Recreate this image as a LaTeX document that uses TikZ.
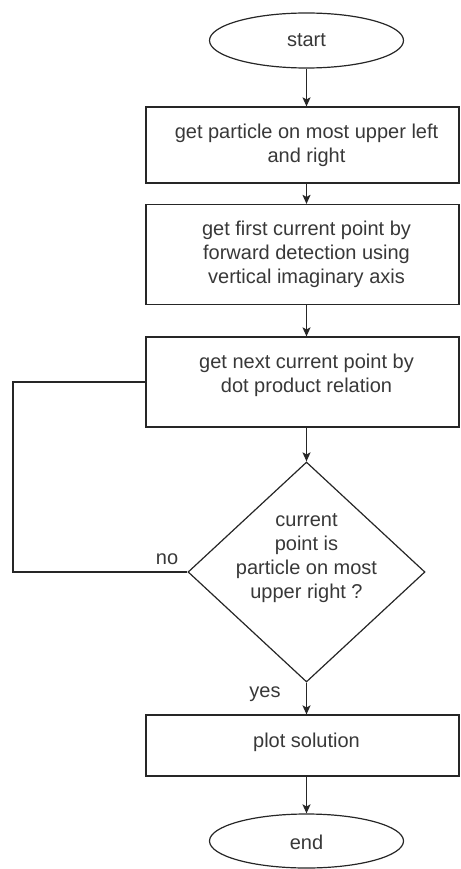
\documentclass[tikz,border=0pt]{standalone}
\usepackage{fontspec}
\setmainfont{Liberation Sans}
\usetikzlibrary{shapes.geometric,arrows.meta}
\begin{document}
\begin{tikzpicture}[x=1pt,y=-1pt,
  line/.style={draw=black!85, line width=1.2pt},
  arr/.style={line, -{Stealth[length=9pt,width=8pt,inset=2pt]}},
  stepbox/.style={line, rectangle, inner sep=0pt, minimum width=313pt},
  term/.style={line, ellipse, inner sep=0pt, minimum width=194pt, minimum height=55pt},
  decide/.style={line, diamond, inner sep=0pt, minimum width=237pt, minimum height=220pt},
  txt/.style={text=black!78, font=\fontsize{20}{24}\selectfont, align=center, inner sep=0pt},
  lbl/.style={text=black!78, font=\fontsize{20}{24}\selectfont, inner sep=0pt}]
\useasboundingbox (0,0) rectangle (460,869);
% shapes
\node[term] (start) at (306.5,40.5) {};
\node[stepbox, minimum height=76pt] (b1) at (302.5,145) {};
\node[stepbox, minimum height=100pt] (b2) at (302.5,254.5) {};
\node[stepbox, minimum height=90pt] (b3) at (302.5,382) {};
\node[decide] (d) at (306.5,572) {};
\node[stepbox, minimum height=61pt] (b4) at (302.5,745.5) {};
\node[term, minimum height=54pt] (end) at (306.5,841) {};
% texts
\node[txt] (tstart) at (306.5,40) {start};
\node[txt] (t1) at (306.5,145) {get particle on most upper left\\and right};
\node[txt] (t2) at (306.5,254) {get first current point by\\forward detection using\\vertical imaginary axis};
\node[txt] (t3) at (306.5,375) {get next current point by\\dot product relation};
\node[txt] (td) at (306.5,558.5) {current\\point is\\particle on most\\upper right ?};
\node[txt] (t4) at (306.5,742) {plot solution};
\node[txt] (tend) at (306.5,842) {end};
\node[lbl] (no) at (167,559) {no};
\node[lbl] (yes) at (265,694) {yes};
% connectors
\draw[arr] (start.south) -- (start.south |- b1.north);
\draw[arr] (b1.south -| start.south) -- (b2.north -| start.south);
\draw[arr] (b2.south -| start.south) -- (b3.north -| start.south);
\draw[arr] (b3.south -| start.south) -- (d.north);
\draw[arr] (d.south) -- (b4.north -| d.south);
\draw[arr] (b4.south -| end.north) -- (end.north);
\coordinate (lp) at (13,572);
\draw[line] (d.west) -- (lp) |- (b3.west);
\end{tikzpicture}
\end{document}
